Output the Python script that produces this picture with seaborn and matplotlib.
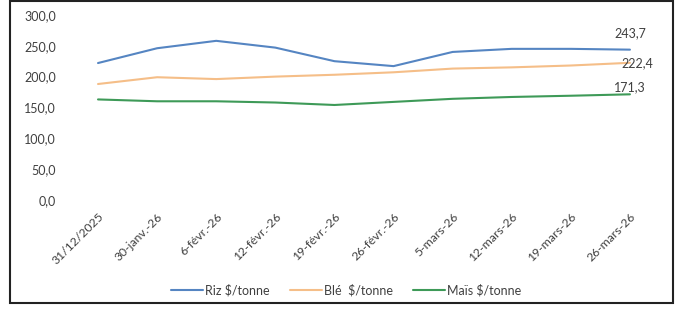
import matplotlib
matplotlib.use("Agg")
import matplotlib.pyplot as plt
import seaborn as sns
import pandas as pd
from matplotlib.patches import Rectangle

dates = ["31/12/2025", "30-janv.-26", "6-févr.-26", "12-févr.-26", "19-févr.-26",
         "26-févr.-26", "5-mars-26", "12-mars-26", "19-mars-26", "26-mars-26"]
riz = [222.0, 246.0, 258.0, 247.0, 225.0, 217.0, 240.0, 245.0, 245.0, 243.7]
ble = [188.0, 199.0, 196.0, 200.0, 203.0, 207.0, 213.0, 215.0, 218.0, 222.4]
mais = [163.0, 160.0, 160.0, 158.0, 154.0, 159.0, 164.0, 167.0, 169.0, 171.3]
series_names = ["Riz $/tonne", "Blé  $/tonne", "Maïs $/tonne"]
end_labels = ["243,7", "222,4", "171,3"]
yticks = [0, 50, 100, 150, 200, 250, 300]

sns.set_theme(style="white")
plt.rcParams["font.family"] = ["Lato", "DejaVu Sans"]
plt.rcParams["text.parse_math"] = False

rows = []
for name, vals in zip(series_names, [riz, ble, mais]):
    for d, v in zip(dates, vals):
        rows.append({"date": d, "value": v, "serie": name})
df = pd.DataFrame(rows)

colors = ["#5585C2", "#F5BE88", "#3E9A58"]

fig = plt.figure(figsize=(6.82, 3.11), dpi=100)
ax = fig.add_axes([0.1004, 0.357, 0.8666, 0.595])
sns.lineplot(data=df, x="date", y="value", hue="serie", palette=colors,
             sort=False, linewidth=1.5, ax=ax, legend=True)

ax.set_xlim(-0.5, len(dates) - 0.5)
ax.set_ylim(0, 300)
ax.set_yticks(yticks)
ax.set_yticklabels([f"{v:.1f}".replace(".", ",") for v in yticks], fontsize=9, color="#404040")
ax.set_xticks(range(len(dates)))
ax.set_xticklabels(dates, rotation=45, ha="right", rotation_mode="anchor", fontsize=8.8, color="#404040")
ax.tick_params(axis="y", length=0, pad=9)
ax.tick_params(axis="x", length=0, pad=8)
ax.set_xlabel("")
ax.set_ylabel("")
for s in ax.spines.values():
    s.set_visible(False)

last = len(dates) - 1
offsets = [(0, 12), (5, 0), (0, 5)]
for vals, lab, off in zip([riz, ble, mais], end_labels, offsets):
    ax.annotate(lab, xy=(last, vals[-1]), xytext=off, textcoords="offset points",
                fontsize=9, color="#404040", ha="center", va="center")

h, l = ax.get_legend_handles_labels()
leg = ax.legend(h, l, loc="center", frameon=False,
                ncol=3, fontsize=9, handlelength=2.6, handletextpad=0.15, columnspacing=1.6)
leg.set_bbox_to_anchor((346 / 682, 21 / 311), transform=fig.transFigure)
for t in leg.get_texts():
    t.set_color("#404040")

fig.patches.append(Rectangle((10 / 682, 8 / 311), 663 / 682, 302 / 311, transform=fig.transFigure,
                             fill=False, edgecolor="#222222", linewidth=1.5))

fig.savefig("out.png", dpi=100)
